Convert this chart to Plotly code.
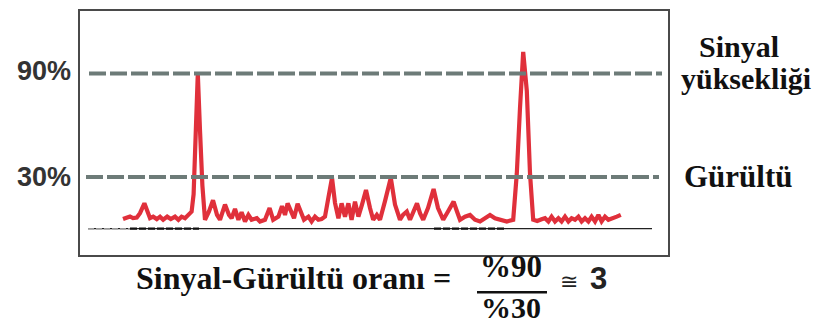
import plotly.graph_objects as go

# Sampled detector trace: time (arbitrary units) and signal level (% of full scale)
time = [
    10.75, 11.75, 12.5, 13.25, 14.2, 15, 16.1, 17.5, 18.3, 19.2, 20, 20.8, 21.8, 22.7,
    23.75, 24.6, 25.4, 26.25, 27, 27.9, 28.4, 29, 29.45, 30, 30.6, 31.25, 32.25, 33.25,
    34.25, 35, 36.25, 37.25, 37.9, 38.75, 39.6, 40.4, 41.25, 42.1, 42.9, 44.2, 45, 46.25,
    47.4, 48.3, 49.6, 50.5, 51.25, 51.9, 52.7, 53.5, 54.4, 55.2, 56, 57.1, 57.9, 58.75,
    59.6, 60.4, 61.25, 62.1, 63, 63.75, 64.6, 65.4, 66.25, 67.1, 67.9, 68.75, 69.6, 70.5,
    71.5, 72.5, 73.3, 74.2, 75, 76.25, 77.7, 78.75, 80, 80.75, 81.7, 82.5, 83.25, 84.25,
    85, 85.8, 87, 88.4, 89.5, 90.8, 92, 93.4, 94.25, 95, 96.25, 97.5, 98.75, 100,
    101.25, 102.5, 103.75, 105, 106.7, 108.3, 109.2, 110, 110.8, 111.7, 112.5, 113.3,
    114.3, 115.4, 116.25, 117.1, 117.9, 118.75, 119.6, 120.4, 121.25, 122.1, 122.9,
    123.75, 124.6, 125.4, 126.25, 127.1, 127.9, 128.75, 129.6, 130.4, 131.25, 132.1,
    132.9, 134.2, 135.2,
]
signal = [
    5.6, 6.5, 7.1, 6.2, 6.5, 9, 14.7, 6.1, 7, 5.6, 7, 5.2, 7, 5.6,
    7, 5.2, 7, 6.1, 8, 9.9, 20, 57, 90, 57, 25, 5.2, 10, 16.5,
    8, 5.2, 14, 8, 6.1, 11.5, 5.2, 9.5, 4.2, 8, 5.2, 6.1, 4.2, 5.2,
    12, 5.2, 7, 13, 8, 14.7, 9.9, 6.1, 14.5, 9, 5.2, 7, 4.2, 7,
    5.2, 5.6, 7, 18, 29.5, 15, 6.1, 14.7, 7, 14.7, 5.2, 15.7, 7, 14,
    22.4, 12, 5.2, 8, 5.2, 16, 29.5, 14, 5.2, 8, 9.9, 5.2, 10, 14.7,
    9, 5.2, 12, 23, 12, 5.2, 10, 15.7, 10, 5.2, 7, 8, 5.2, 4.2,
    6.1, 8, 6.1, 5.2, 4.2, 5.2, 32, 70, 102.5, 80, 32, 5.2,
    4.5, 5.5, 6.1, 4.2, 7, 4.2, 6.1, 4.2, 7, 4.2, 6.1,
    5.2, 7, 4.2, 6.1, 4.2, 7, 4.2, 8, 4.2, 7, 5.2,
    6.1, 7, 8,
]

# Reference levels: signal height and noise level
levels = [90, 30]
level_labels = ["90%", "30%"]
side_labels = [["Sinyal", "yüksekliği"], ["Gürültü"]]
baseline = 0

ratio_text = "Sinyal-Gürültü oranı ="
numerator = "%90"
denominator = "%30"
approx_sign = "≅"
ratio_value = "3"

W, H = 820, 325
L, R, T, B = 80, 668, 9, 255


def px(xp):
    return (xp - L) / (R - L)


def py(yp):
    return (B - yp) / (B - T)


serif = "Liberation Serif"
sans = "Liberation Sans"

fig = go.Figure()

fig.add_trace(go.Scatter(
    x=time, y=signal, mode="lines",
    line=dict(color="#e0303b", width=4.2),
    hoverinfo="skip", showlegend=False,
))

shapes = []
# dashed reference levels
shapes.append(dict(type="line", xref="paper", yref="y", x0=px(89), x1=px(662),
                   y0=levels[0], y1=levels[0],
                   line=dict(color="#6d7b78", width=4, dash="17px,4px")))
shapes.append(dict(type="line", xref="paper", yref="y", x0=px(86), x1=px(659),
                   y0=levels[1], y1=levels[1],
                   line=dict(color="#6d7b78", width=4, dash="17px,4px")))
# zero baseline
shapes.append(dict(type="line", xref="paper", yref="y", x0=px(88), x1=px(652),
                   y0=baseline, y1=baseline,
                   line=dict(color="#222222", width=1.2)))
shapes.append(dict(type="line", xref="paper", yref="y", x0=px(88), x1=px(130),
                   y0=baseline, y1=baseline,
                   line=dict(color="#9a9a9a", width=1.5, dash="6px,2px")))
shapes.append(dict(type="line", xref="paper", yref="y", x0=px(130), x1=px(199),
                   y0=baseline, y1=baseline,
                   line=dict(color="#111111", width=2.2, dash="7px,2px")))
shapes.append(dict(type="line", xref="paper", yref="y", x0=px(434), x1=px(505),
                   y0=baseline, y1=baseline,
                   line=dict(color="#111111", width=2.2, dash="7px,2px")))
# fraction bar
shapes.append(dict(type="line", xref="paper", yref="paper", x0=px(477), x1=px(547),
                   y0=py(292.5), y1=py(292.5),
                   line=dict(color="#111111", width=2.5)))

ann = []
for lv, lab in zip(levels, level_labels):
    ann.append(dict(text="<b>%s</b>" % lab, xref="paper", yref="y", x=px(73), y=lv,
                    xanchor="right", yanchor="middle", showarrow=False,
                    yshift=2 if lv == levels[0] else 0,
                    font=dict(family=sans, size=27, color="#333333")))

ann.append(dict(text="<b>%s</b>" % side_labels[0][0], xref="paper", yref="paper",
                x=px(739), y=py(45), xanchor="center", yanchor="middle",
                showarrow=False, font=dict(family=serif, size=30, color="#111111")))
ann.append(dict(text="<b>%s</b>" % side_labels[0][1], xref="paper", yref="paper",
                x=px(746), y=py(77), xanchor="center", yanchor="middle",
                showarrow=False, font=dict(family=serif, size=30, color="#111111")))
ann.append(dict(text="<b>%s</b>" % side_labels[1][0], xref="paper", yref="y",
                x=px(738), y=levels[1], xanchor="center", yanchor="middle",
                showarrow=False, font=dict(family=serif, size=31, color="#111111")))

ann.append(dict(text="<b>%s</b>" % ratio_text, xref="paper", yref="paper",
                x=px(453), y=py(278), xanchor="right", yanchor="middle",
                showarrow=False, font=dict(family=serif, size=32, color="#111111")))
ann.append(dict(text="<b>%s</b>" % numerator, xref="paper", yref="paper",
                x=px(511), y=py(267), xanchor="center", yanchor="middle",
                showarrow=False, font=dict(family=serif, size=31, color="#111111")))
ann.append(dict(text="<b>%s</b>" % denominator, xref="paper", yref="paper",
                x=px(511), y=py(308), xanchor="center", yanchor="middle",
                showarrow=False, font=dict(family=serif, size=30, color="#111111")))
ann.append(dict(text=approx_sign, xref="paper", yref="paper",
                x=px(569), y=py(282), xanchor="center", yanchor="middle",
                showarrow=False, font=dict(family="DejaVu Sans", size=22, color="#222222")))
ann.append(dict(text="<b>%s</b>" % ratio_value, xref="paper", yref="paper",
                x=px(598), y=py(279), xanchor="center", yanchor="middle",
                showarrow=False, font=dict(family=sans, size=31, color="#222222")))

# plot area y range chosen so 0% and 90% sit on the drawn guide positions
y_top = (228.5 - T) / 1.739
y_bot = (228.5 - B) / 1.739

fig.update_layout(
    width=W, height=H,
    margin=dict(l=L, r=W - R, t=T, b=H - B, pad=0),
    paper_bgcolor="white", plot_bgcolor="white",
    shapes=shapes, annotations=ann,
    xaxis=dict(range=[0, 147], showgrid=False, zeroline=False, showticklabels=False,
               ticks="", showline=True, mirror=True, linecolor="#4a4a4a", linewidth=1.5),
    yaxis=dict(range=[y_bot, y_top], showgrid=False, zeroline=False, showticklabels=False,
               ticks="", showline=True, mirror=True, linecolor="#4a4a4a", linewidth=1.5),
)

fig.write_html("out.html")
